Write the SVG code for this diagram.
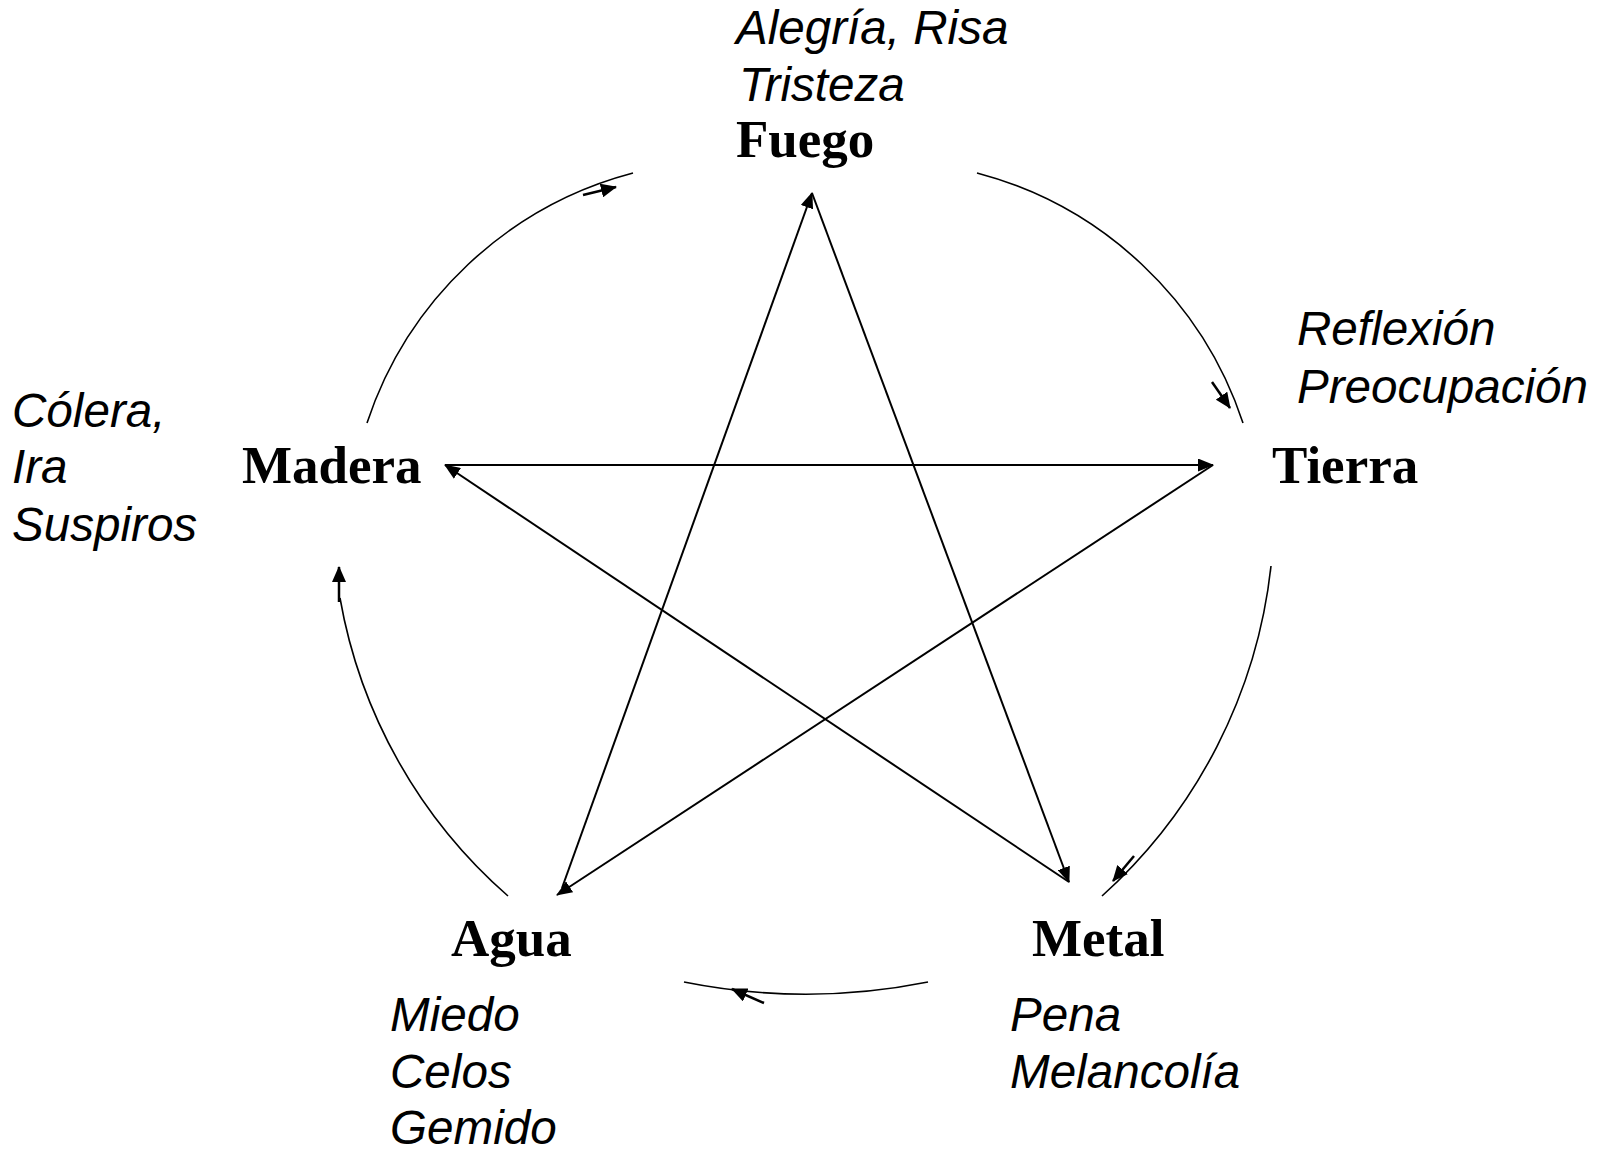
<svg xmlns="http://www.w3.org/2000/svg" width="1612" height="1150" viewBox="0 0 1612 1150">
<style>
.lab{font-family:"Liberation Serif","Times New Roman",serif;font-weight:bold;font-size:53px;fill:#000}
.emo{font-family:"Liberation Sans",Arial,sans-serif;font-style:italic;font-size:47.6px;fill:#000}
.star{stroke:#000;stroke-width:2;fill:none;marker-end:url(#ah)}
.arc{stroke:#000;stroke-width:1.6;fill:none}
.sa{stroke:#000;stroke-width:2.5;fill:none;marker-end:url(#ah2)}
</style>
<defs>
<marker id="ah" markerUnits="userSpaceOnUse" markerWidth="16" markerHeight="13" refX="15" refY="6.5" orient="auto">
<path d="M0,0 L16,6.5 L0,13 z" fill="#000"/>
</marker>
<marker id="ah2" markerUnits="userSpaceOnUse" markerWidth="16" markerHeight="14" refX="15" refY="7" orient="auto">
<path d="M0,0 L16,7 L0,14 z" fill="#000"/>
</marker>
</defs>
<rect width="1612" height="1150" fill="#fff"/>
<g id="connectors">
<path class="star" d="M445,465 L1213,465"/>
<path class="star" d="M1213,465 L557,895"/>
<path class="star" d="M562,888 L812,193"/>
<path class="star" d="M812,193 L1069,882"/>
<path class="star" d="M1069,882 L445,465"/>
<path class="arc" d="M367,423 A383,383 0 0 1 633,173"/>
<path class="arc" d="M977,173 A383,383 0 0 1 1243,423"/>
<path class="arc" d="M1271,566 A520,520 0 0 1 1102,896"/>
<path class="arc" d="M340,598 A513,513 0 0 0 508,896"/>
<path class="arc" d="M928,982 A620,620 0 0 1 684,982"/>
<path class="sa" d="M583,195 L616,187"/>
<path class="sa" d="M1212,382 L1230,408"/>
<path class="sa" d="M1134,856 L1113,881"/>
<path class="sa" d="M764,1003 L732,989"/>
<path class="sa" d="M339,602 L339,567"/>
</g>
<g id="fuego">
<text class="emo" x="736" y="44">Alegría, Risa</text>
<text class="emo" x="739" y="101">Tristeza</text>
<text class="lab" x="736" y="157">Fuego</text>
</g>
<g id="tierra">
<text class="emo" x="1297" y="345">Reflexión</text>
<text class="emo" x="1297" y="403">Preocupación</text>
<text class="lab" x="1272" y="483">Tierra</text>
</g>
<g id="madera">
<text class="emo" x="12" y="427">Cólera,</text>
<text class="emo" x="12" y="483">Ira</text>
<text class="emo" x="12" y="541">Suspiros</text>
<text class="lab" x="242" y="483">Madera</text>
</g>
<g id="agua">
<text class="lab" x="451" y="956">Agua</text>
<text class="emo" x="390" y="1031">Miedo</text>
<text class="emo" x="390" y="1088">Celos</text>
<text class="emo" x="390" y="1144">Gemido</text>
</g>
<g id="metal">
<text class="lab" x="1032" y="956">Metal</text>
<text class="emo" x="1010" y="1031">Pena</text>
<text class="emo" x="1010" y="1088">Melancolía</text>
</g>
</svg>
